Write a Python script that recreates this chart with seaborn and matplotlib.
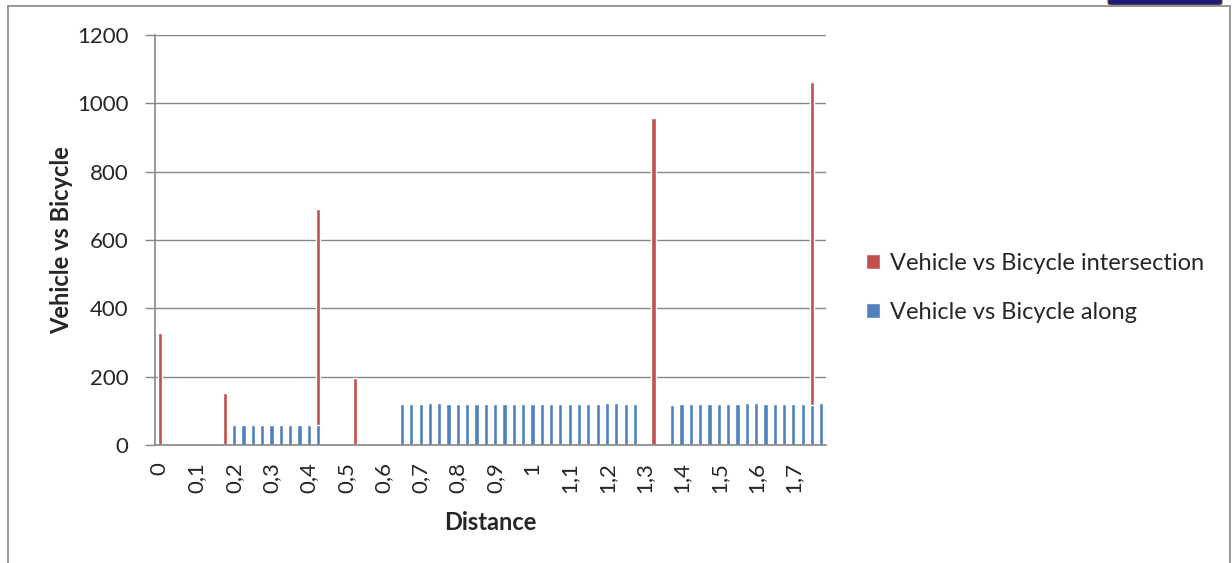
import matplotlib
matplotlib.use("Agg")
import matplotlib.pyplot as plt
from matplotlib.lines import Line2D
from matplotlib.patches import FancyBboxPatch
import numpy as np
import pandas as pd
import seaborn as sns

# 72 distance categories, 0 to 1.775 km in 0.025 steps
distance = [
    "0", "0,025", "0,05", "0,075", "0,1", "0,125", "0,15", "0,175",
    "0,2", "0,225", "0,25", "0,275", "0,3", "0,325", "0,35", "0,375",
    "0,4", "0,425", "0,45", "0,475", "0,5", "0,525", "0,55", "0,575",
    "0,6", "0,625", "0,65", "0,675", "0,7", "0,725", "0,75", "0,775",
    "0,8", "0,825", "0,85", "0,875", "0,9", "0,925", "0,95", "0,975",
    "1", "1,025", "1,05", "1,075", "1,1", "1,125", "1,15", "1,175",
    "1,2", "1,225", "1,25", "1,275", "1,3", "1,325", "1,35", "1,375",
    "1,4", "1,425", "1,45", "1,475", "1,5", "1,525", "1,55", "1,575",
    "1,6", "1,625", "1,65", "1,675", "1,7", "1,725", "1,75", "1,775",
]

along = [
    0, 0, 0, 0, 0, 0, 0, 0,
    60, 60, 60, 60, 60, 60, 60, 60,
    60, 60, 0, 0, 0, 0, 0, 0,
    0, 0, 120, 120, 120, 124, 124, 121,
    121, 121, 121, 120, 120, 120, 120, 120,
    120, 120, 120, 120, 120, 120, 120, 120,
    122, 122, 121, 119, 0, 0, 0, 117,
    120, 120, 120, 120, 120, 120, 120, 122,
    122, 120, 120, 120, 120, 120, 117, 123,
]

intersection = [
    328, 0, 0, 0, 0, 0, 0, 152,
    0, 0, 0, 0, 0, 0, 0, 0,
    0, 630, 0, 0, 0, 195, 0, 0,
    0, 0, 0, 0, 0, 0, 0, 0,
    0, 0, 0, 0, 0, 0, 0, 0,
    0, 0, 0, 0, 0, 0, 0, 0,
    0, 0, 0, 0, 0, 957, 0, 0,
    0, 0, 0, 0, 0, 0, 0, 0,
    0, 0, 0, 0, 0, 0, 946, 0,
]

label_every = 4

df = pd.DataFrame({"Distance": distance, "along": along, "intersection": intersection})
df["total"] = df["along"] + df["intersection"]

red = "#C0504D"
blue = "#4F81BD"
grey = "#868686"

sns.set_theme(style="white")
plt.rcParams["font.family"] = ["Lato", "DejaVu Sans"]

fig = plt.figure(figsize=(12.32, 5.63), dpi=100)
ax = fig.add_axes([155 / 1232, 1 - 445 / 563, 671 / 1232, 410 / 563])

# stacked columns: full height in red, then the lower part in blue
sns.barplot(data=df, x="Distance", y="total", order=distance, color=red, saturation=1,
            width=0.45, errorbar=None, label="Vehicle vs Bicycle intersection", ax=ax)
sns.barplot(data=df, x="Distance", y="along", order=distance, color=blue, saturation=1,
            width=0.45, errorbar=None, label="Vehicle vs Bicycle along", ax=ax)

ax.set_ylim(0, 1200)
ax.set_xlim(-0.5, len(distance) - 0.5)
ax.set_yticks(range(0, 1201, 200))
ax.yaxis.grid(True, color=grey, linewidth=1)
ax.set_axisbelow(True)

ticks = list(range(0, len(distance), label_every))
ax.set_xticks(ticks)
ax.set_xticklabels([distance[i] for i in ticks], rotation=90, fontsize=16)
ax.set_xticks(np.arange(-0.5, len(distance)), minor=True)
ax.tick_params(axis="x", which="major", length=0, pad=12)
ax.tick_params(axis="x", which="minor", length=6, width=1, color=grey, direction="out")
ax.tick_params(axis="y", length=7, width=1, color=grey, direction="out", labelsize=16, left=True, pad=12)

for s in ["top", "right"]:
    ax.spines[s].set_visible(False)
for s in ["left", "bottom"]:
    ax.spines[s].set_color(grey)
    ax.spines[s].set_linewidth(1.2)

ax.set_xlabel("Distance", fontsize=17, fontweight="bold", labelpad=13)
ax.set_ylabel("Vehicle vs Bicycle", fontsize=17, fontweight="bold", labelpad=3)

ax.legend(loc="center left", bbox_to_anchor=(1.028, 0.383), frameon=False, fontsize=17,
          handlelength=0.6, handleheight=0.6, handletextpad=0.4, labelspacing=1.2)

# chart area border (open at the bottom, as in the crop)
fig.add_artist(Line2D([8 / 1232, 8 / 1232], [0, 1 - 6 / 563], color=grey, lw=1.2))
fig.add_artist(Line2D([8 / 1232, 1230 / 1232], [1 - 6 / 563, 1 - 6 / 563], color=grey, lw=1.2))
fig.add_artist(Line2D([1230 / 1232, 1230 / 1232], [1 - 6 / 563, 0], color=grey, lw=1.2))
fig.add_artist(FancyBboxPatch((1108 / 1232, 1 - 5 / 563), 114 / 1232, 12 / 563,
                              boxstyle="round,pad=0,rounding_size=0.004",
                              facecolor="#1d1a7a", edgecolor="#6b5a2a", lw=0.8,
                              transform=fig.transFigure))

fig.savefig("out.png", dpi=100)
